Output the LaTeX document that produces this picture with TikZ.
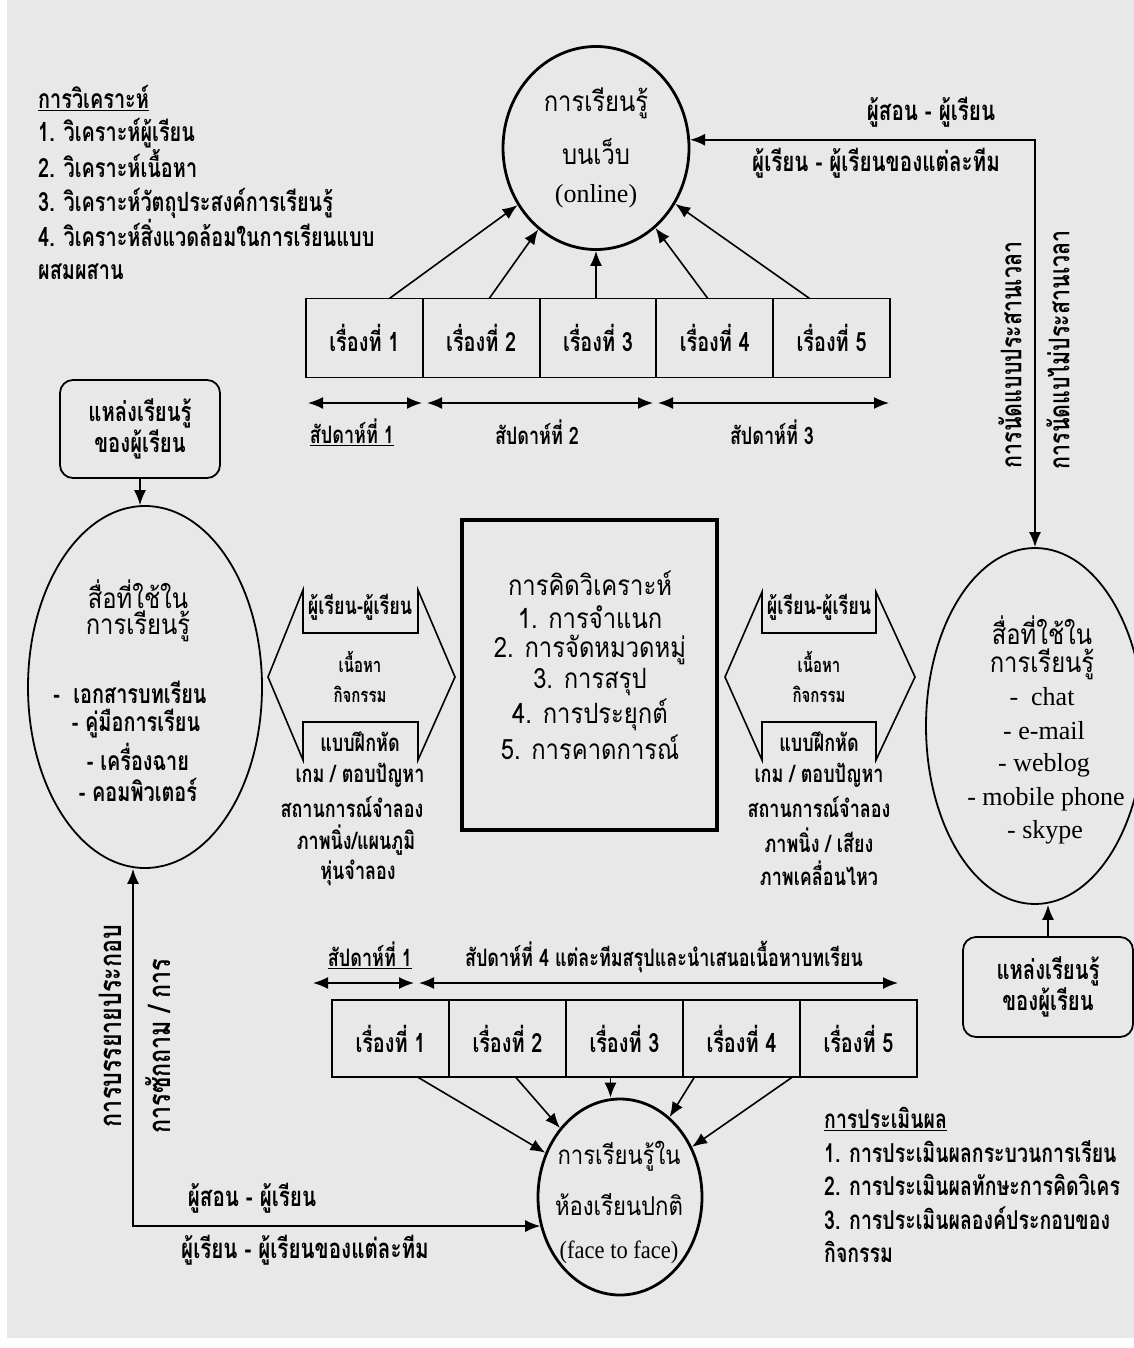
\documentclass[tikz,border=0pt]{standalone}
\usepackage{fontspec}
\setmainfont{Liberation Serif}
\newfontfamily\thf[Script=Thai,FakeStretch=0.75]{Loma}
\newfontfamily\thg[Script=Thai,FakeStretch=0.85]{Loma}
\newfontfamily\latc[FakeStretch=0.9]{Liberation Serif}
\usetikzlibrary{arrows.meta,shapes.geometric,calc}
\tikzset{
  tt/.style={font=\thf\bfseries\fontsize{24}{33}\selectfont, inner sep=0pt, align=center},
  tm/.style={font=\thf\bfseries\fontsize{26.5}{33.5}\selectfont, inner sep=0pt, align=center},
  tbig/.style={font=\thf\bfseries\fontsize{27.5}{33}\selectfont, inner sep=0pt, align=center},
  tev/.style={font=\thf\bfseries\fontsize{26}{33.5}\selectfont, inner sep=0pt, align=left},
  tv/.style={font=\thf\bfseries\fontsize{28.5}{33}\selectfont, inner sep=0pt, rotate=90},
  tvb/.style={font=\thf\bfseries\fontsize{31}{33}\selectfont, inner sep=0pt, rotate=90},
  tts/.style={font=\thf\bfseries\fontsize{20}{33}\selectfont, inner sep=0pt, align=center},
  ttl/.style={font=\thg\fontsize{28}{34}\selectfont, inner sep=0pt, align=center},
  lat/.style={font=\fontsize{26}{34}\selectfont, inner sep=0pt},
  tbox/.style={draw, line width=1.8pt, minimum width=117pt, minimum height=79pt, inner sep=0pt, outer sep=0pt, font=\thf\bfseries\fontsize{26.5}{33}\selectfont},
  arr/.style={-{Latex[length=15pt,width=12pt]}, line width=1.6pt},
  darr/.style={{Latex[length=15pt,width=12pt]}-{Latex[length=15pt,width=12pt]}, line width=1.6pt},
  rbox/.style={draw, rounded corners=13pt, line width=1.8pt, inner sep=0pt, align=center, font=\thf\bfseries\fontsize{27}{31}\selectfont},
  oval/.style={draw, ellipse, line width=1.8pt, inner sep=0pt},
  hexa/.style={draw, line width=1.6pt, line join=miter},
}
\begin{document}
\begin{tikzpicture}[x=1pt,y=-1pt]
\useasboundingbox (0,0) rectangle (1134,1348);
\fill[white] (0,0) rectangle (1134,1348);
\fill[black!9] (7,0) rectangle (1134,1338);

% top-left analysis
\node[tm, align=left, anchor=north west] (ana) at (38,85) {\underline{การวิเคราะห์}\\1. วิเคราะห์ผู้เรียน\\2. วิเคราะห์เนื้อหา\\3. วิเคราะห์วัตถุประสงค์การเรียนรู้\\4. วิเคราะห์สิ่งแวดล้อมในการเรียนแบบ\\ผสมผสาน};

% online circle
\node[oval, line width=2.8pt, minimum width=186pt, minimum height=203pt] (online) at (596,148) {};
\node[ttl] (on1) at (596,103) {การเรียนรู้};
\node[ttl] (on2) at (596,152) {บนเว็บ};
\node[lat] (on3) at (596,196) {(online)};

% top boxes
\node[tbox] (tb1) at (364.4,338) {เรื่องที่ 1};
\node[tbox] (tb2) at (481.2,338) {เรื่องที่ 2};
\node[tbox] (tb3) at (598.0,338) {เรื่องที่ 3};
\node[tbox] (tb4) at (714.8,338) {เรื่องที่ 4};
\node[tbox] (tb5) at (831.6,338) {เรื่องที่ 5};

\draw[arr] ($(tb1.north)+(25,0)$) -- (online);
\draw[arr] ($(tb2.north)+(8,0)$) -- (online);
\draw[arr] (tb3.north -| online.south) -- (online.south);
\draw[arr] ($(tb4.north)+(-7,0)$) -- (online);
\draw[arr] ($(tb5.north)+(-22,0)$) -- (online);

% weeks (top)
\coordinate (w1a) at (308,403); \coordinate (w1b) at (422,403);
\coordinate (w2a) at (427,403); \coordinate (w2b) at (653,403);
\coordinate (w3a) at (658,403); \coordinate (w3b) at (889,403);
\draw[darr] (w1a) -- (w1b);
\draw[darr] (w2a) -- (w2b);
\draw[darr] (w3a) -- (w3b);
\node[tt] (wk1) at (352,432) {\underline{สัปดาห์ที่ 1}};
\node[tt] (wk2) at (537,432) {สัปดาห์ที่ 2};
\node[tt] (wk3) at (772,432) {สัปดาห์ที่ 3};

% right media ellipse
\node[oval, minimum width=218pt, minimum height=356pt] (mediaR) at (1035,726) {};
\draw[darr] (online.5) -| (mediaR.north);
\node[tbig] (lbT1) at (931,112) {ผู้สอน - ผู้เรียน};
\node[tbig] (lbT2) at (876,163) {ผู้เรียน - ผู้เรียนของแต่ละทีม};
\node[tv] (v1) at (1010,355) {การนัดแบบประสานเวลา};
\node[tv] (v2) at (1058,350) {การนัดแบไม่ประสานเวลา};
\node[ttl] (mr1) at (1042,630) {สื่อที่ใช้ใน};
\node[ttl] (mr2) at (1042,664) {การเรียนรู้};
\node[lat] (mr3) at (1042,697) {-\ \ chat};
\node[lat] (mr4) at (1044,731) {- e-mail};
\node[lat] (mr5) at (1044,765) {- weblog};
\node[lat] (mr6) at (1046,799) {- mobile phone};
\node[lat] (mr7) at (1045,832) {- skype};

\node[rbox, minimum width=170pt, minimum height=100pt] (srcR) at (1048,987) {แหล่งเรียนรู้\\ของผู้เรียน};
\draw[arr] (srcR.north) -- (srcR.north |- mediaR.south);

% left media
\node[rbox, minimum width=160pt, minimum height=98pt] (srcL) at (140,429) {แหล่งเรียนรู้\\ของผู้เรียน};
\node[oval, minimum width=234pt, minimum height=362pt] (mediaL) at (145,687) {};
\draw[arr] (srcL.south) -- (srcL.south |- mediaL.north);
\node[ttl] (ml1) at (138,594) {สื่อที่ใช้ใน};
\node[ttl] (ml2) at (138,626) {การเรียนรู้};
\node[tm] (ml3) at (130,692) {-\ \ เอกสารบทเรียน};
\node[tm] (ml4) at (136,724) {- คู่มือการเรียน};
\node[tm] (ml5) at (138,757) {- เครื่องฉาย};
\node[tm] (ml6) at (138,790) {- คอมพิวเตอร์};

% left hexagon
\draw[hexa] (303,590) -- (303,633) -- (418,633) -- (418,590) -- (455,677) -- (418,760) -- (418,722) -- (303,722) -- (303,760) -- (268,677) -- cycle;
\node[tt] (hl1) at (360,607) {ผู้เรียน-ผู้เรียน};
\node[tts] (hl2) at (360,662) {เนื้อหา};
\node[tts] (hl3) at (360,694) {กิจกรรม};
\node[tt] (hl4) at (360,742) {แบบฝึกหัด};
\node[tt] (hl5) at (360,775) {เกม / ตอบปัญหา};
\node[tt] (hl6) at (352,807) {สถานการณ์จำลอง};
\node[tt] (hl7) at (356,840) {ภาพนิ่ง/แผนภูมิ};
\node[tt] (hl8) at (358,873) {หุ่นจำลอง};

% center box
\node[draw, line width=4.8pt, minimum width=255pt, minimum height=310pt] (think) at (589.5,675) {};
\node[ttl] (c1) at (590,583) {การคิดวิเคราะห์};
\node[ttl] (c2) at (590,617) {1. การจำแนก};
\node[ttl] (c3) at (590,650) {2. การจัดหมวดหมู่};
\node[ttl] (c4) at (590,682) {3. การสรุป};
\node[ttl] (c5) at (590,715) {4. การประยุกต์};
\node[ttl] (c6) at (590,747) {5. การคาดการณ์};

% right hexagon
\draw[hexa] (762,592) -- (762,633) -- (876,633) -- (876,592) -- (915,677) -- (876,760) -- (876,722) -- (762,722) -- (762,760) -- (725,677) -- cycle;
\node[tt] (hr1) at (819,607) {ผู้เรียน-ผู้เรียน};
\node[tts] (hr2) at (819,662) {เนื้อหา};
\node[tts] (hr3) at (819,694) {กิจกรรม};
\node[tt] (hr4) at (819,742) {แบบฝึกหัด};
\node[tt] (hr5) at (819,775) {เกม / ตอบปัญหา};
\node[tt] (hr6) at (819,807) {สถานการณ์จำลอง};
\node[tt] (hr7) at (819,840) {ภาพนิ่ง / เสียง};
\node[tt] (hr8) at (819,873) {ภาพเคลื่อนไหว};

% bottom weeks
\node[tt] (wk1b) at (370,955) {\underline{สัปดาห์ที่ 1}};
\node[tt] (wk4) at (664,957) {สัปดาห์ที่ 4 แต่ละทีมสรุปและนำเสนอเนื้อหาบทเรียน};
\coordinate (w4a) at (313,983); \coordinate (w4b) at (414,983);
\coordinate (w5a) at (419,983); \coordinate (w5b) at (898,983);
\draw[darr] (w4a) -- (w4b);
\draw[darr] (w5a) -- (w5b);

% bottom boxes
\node[tbox, minimum height=77pt] (bb1) at (390.5,1038.5) {เรื่องที่ 1};
\node[tbox, minimum height=77pt] (bb2) at (507.5,1038.5) {เรื่องที่ 2};
\node[tbox, minimum height=77pt] (bb3) at (624.5,1038.5) {เรื่องที่ 3};
\node[tbox, minimum height=77pt] (bb4) at (741.5,1038.5) {เรื่องที่ 4};
\node[tbox, minimum height=77pt] (bb5) at (858.5,1038.5) {เรื่องที่ 5};

% face to face
\node[oval, line width=2.8pt, minimum width=164pt, minimum height=196pt] (ftf) at (620,1197) {};
\node[ttl, font=\thg\fontsize{26}{34}\selectfont] (f1) at (619,1156) {การเรียนรู้ใน};
\node[ttl, font=\thg\fontsize{26}{34}\selectfont] (f2) at (619,1205) {ห้องเรียนปกติ};
\node[lat, font=\latc\fontsize{25}{34}\selectfont] (f3) at (619,1252) {(face to face)};

\draw[arr] ($(bb1.south)+(27,0)$) -- (ftf);
\draw[arr] ($(bb2.south)+(8,0)$) -- (ftf);
\coordinate (a3) at ($(bb3.south)+(-14,0)$);
\draw[arr] (a3) -- (a3 |- ftf.north);
\draw[arr] ($(bb4.south)+(-47,0)$) -- (ftf);
\draw[arr] ($(bb5.south)+(-66,0)$) -- (ftf);

% left connector
\coordinate (lcorner) at (133,1226);
\draw[darr] (mediaL.south -| lcorner) |- (ftf.200);
\node[tbig] (lbB1) at (252,1198) {ผู้สอน - ผู้เรียน};
\node[tbig] (lbB2) at (305,1250) {ผู้เรียน - ผู้เรียนของแต่ละทีม};
\node[tvb] (v3) at (110,1026) {การบรรยายประกอบ};
\node[tvb] (v4) at (158,1046) {การซักถาม / การ};

% evaluation
\node[tev, anchor=north west] (eval) at (824,1107) {\underline{การประเมินผล}\\1. การประเมินผลกระบวนการเรียน\\2. การประเมินผลทักษะการคิดวิเคร\\3. การประเมินผลองค์ประกอบของ\\กิจกรรม};
\end{tikzpicture}
\end{document}
